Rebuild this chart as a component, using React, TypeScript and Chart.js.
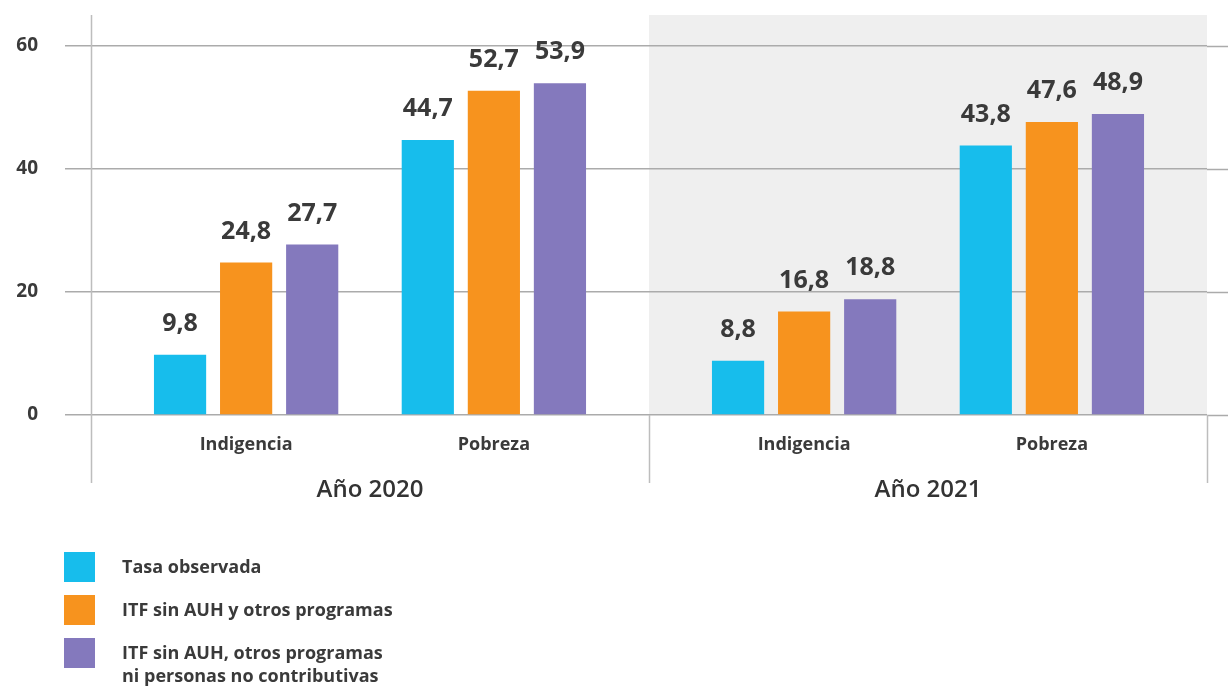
import React, { useEffect, useRef } from "react";
import { Chart, registerables, CategoryScale } from "chart.js";

// ---- Data ----
const categories = ["Indigencia", "Pobreza", "Indigencia", "Pobreza"];
const groupLabels = ["Año 2020", "Año 2021"];
const seriesNames = [
  "Tasa observada",
  "ITF sin AUH y otros programas",
  "ITF sin AUH, otros programas\nni personas no contributivas",
];
const tasaObservada = [9.8, 44.7, 8.8, 43.8];
const itfSinAuhOtros = [24.8, 52.7, 16.8, 47.6];
const itfSinAuhOtrosNiPnc = [27.7, 53.9, 18.8, 48.9];
const yTickValues = [0, 20, 40, 60];
const seriesColors = ["#17BDEC", "#F7931E", "#8479BD"];
const shadedGroupIndex = 1;

// style: fraction of each group's width kept empty at its two edges
const GROUP_EDGE_PAD = 0.056;

// A category scale whose categories are laid out inside groups (extra gap between groups)
class GroupedCategoryScale extends (CategoryScale as any) {
  static id = "groupedCategory";
  static defaults = (CategoryScale as any).defaults;
  getPixelForValue(value: any) {
    if (typeof value !== "number") value = (this as any).parse(value);
    if (value === null || value === undefined || isNaN(value)) return NaN;
    const nGroups = groupLabels.length;
    const perGroup = categories.length / nGroups;
    const g = Math.floor(value / perGroup);
    const k = value - g * perGroup;
    const dec = (g + GROUP_EDGE_PAD + (1 - 2 * GROUP_EDGE_PAD) * (k + 0.5) / perGroup) / nGroups;
    return (this as any).getPixelForDecimal(dec);
  }
}

Chart.register(...registerables, GroupedCategoryScale as any);

const FONT = "'Open Sans', 'Noto Sans', sans-serif";
const TEXT = "#3a3a3a";
const GRID = "#ababab";

const fmt = (v: number) => v.toFixed(1).replace(".", ",");

const decorPlugin = {
  id: "decor",
  beforeDraw(chart: any) {
    const { ctx, chartArea } = chart;
    const gw = (chartArea.right - chartArea.left) / groupLabels.length;
    const gx = chartArea.left + gw * shadedGroupIndex;
    ctx.save();
    ctx.fillStyle = "#efefef";
    ctx.fillRect(gx, chartArea.top, gw, chartArea.bottom - chartArea.top);
    ctx.restore();
  },
  beforeDatasetsDraw(chart: any) {
    const { ctx, chartArea, scales } = chart;
    const y = scales.y;
    const gw = (chartArea.right - chartArea.left) / groupLabels.length;
    ctx.save();
    ctx.strokeStyle = GRID;
    ctx.lineWidth = 1.5;
    // extend horizontal grid lines to the right edge
    yTickValues.forEach((v) => {
      const py = Math.round(y.getPixelForValue(v)) + 0.5;
      ctx.beginPath();
      ctx.moveTo(chartArea.right, py);
      ctx.lineTo(chart.width, py);
      ctx.stroke();
    });
    // vertical separators
    ctx.strokeStyle = "#bdbdbd";
    for (let i = 0; i <= groupLabels.length; i++) {
      const px = Math.round(chartArea.left + i * gw) + 0.5;
      ctx.beginPath();
      ctx.moveTo(px, i === 0 ? chartArea.top : chartArea.bottom);
      ctx.lineTo(px, chartArea.bottom + 68);
      ctx.stroke();
    }
    // group labels
    ctx.fillStyle = "#333333";
    ctx.font = `600 24px ${FONT}`;
    ctx.textAlign = "center";
    ctx.textBaseline = "middle";
    groupLabels.forEach((g, i) => {
      const cx = chartArea.left + (i + 0.5) * gw;
      ctx.fillText(g, cx, chartArea.bottom + 75);
    });
    ctx.restore();
  },
  afterDatasetsDraw(chart: any) {
    const { ctx } = chart;
    ctx.save();
    ctx.fillStyle = TEXT;
    ctx.font = `bold 25px ${FONT}`;
    ctx.textAlign = "center";
    ctx.textBaseline = "middle";
    chart.data.datasets.forEach((ds: any, i: number) => {
      const meta = chart.getDatasetMeta(i);
      meta.data.forEach((el: any, j: number) => {
        ctx.fillText(fmt(ds.data[j]), el.x, el.y - 31);
      });
    });
    ctx.restore();
  },
};

export default function App() {
  const canvasRef = useRef<HTMLCanvasElement | null>(null);

  useEffect(() => {
    document.body.style.margin = "0";
    const canvas = canvasRef.current;
    if (!canvas) return;
    const chart = new Chart(canvas, {
      type: "bar",
      data: {
        labels: categories,
        datasets: [tasaObservada, itfSinAuhOtros, itfSinAuhOtrosNiPnc].map((d, i) => ({
          label: seriesNames[i],
          data: d,
          backgroundColor: seriesColors[i],
          borderWidth: 0,
          categoryPercentage: 0.8,
          barPercentage: 0.79,
        })),
      },
      options: {
        animation: false,
        responsive: false,
        maintainAspectRatio: false,
        layout: { padding: { top: 15, right: 21, left: 0, bottom: 0 } },
        plugins: { legend: { display: false }, tooltip: { enabled: false } },
        scales: {
          x: {
            type: "groupedCategory",
            offset: true,
            grid: { display: false, drawTicks: false, offset: true },
            border: { display: false },
            ticks: {
              padding: 19,
              color: TEXT,
              autoSkip: false,
              maxRotation: 0,
              font: { family: FONT, size: 18, weight: "bold" },
            },
            afterFit: (s: any) => {
              s.height = 271;
              s.paddingLeft = 0;
              s.paddingRight = 0;
            },
          },
          y: {
            min: 0,
            max: 65,
            afterBuildTicks: (s: any) => {
              s.ticks = yTickValues.map((v) => ({ value: v }));
            },
            afterFit: (s: any) => {
              s.width = 91;
              s.paddingTop = 0;
              s.paddingBottom = 0;
            },
            grid: { color: GRID, lineWidth: 1.5, tickLength: 26, drawTicks: true },
            border: { display: false },
            ticks: {
              padding: 27,
              color: TEXT,
              font: { family: FONT, size: 19, weight: "bold" },
            },
          },
        },
      },
      plugins: [decorPlugin],
    } as any);
    let alive = true;
    if ((document as any).fonts && (document as any).fonts.load) {
      Promise.all([
        (document as any).fonts.load(`bold 16px 'Open Sans'`),
        (document as any).fonts.load(`600 21px 'Open Sans'`),
      ]).then(() => {
        if (alive) chart.update();
      }).catch(() => {});
    }
    return () => {
      alive = false;
      chart.destroy();
    };
  }, []);

  return (
    <div style={{ position: "relative", width: 1228, height: 686, background: "#ffffff", overflow: "hidden" }}>
      <canvas ref={canvasRef} width={1228} height={686} style={{ position: "absolute", left: 0, top: 0 }} />
      <div style={{ position: "absolute", left: 64, top: 552, fontFamily: FONT, fontWeight: 700, fontSize: 18, color: TEXT }}>
        {seriesNames.map((name, i) => (
          <div key={i} style={{ display: "flex", alignItems: "flex-start", marginBottom: 13 }}>
            <div style={{ width: 31, height: 30, background: seriesColors[i], flex: "none" }} />
            <div style={{ marginLeft: 27, paddingTop: 3, lineHeight: "23px", whiteSpace: "pre-line" }}>{name}</div>
          </div>
        ))}
      </div>
    </div>
  );
}
